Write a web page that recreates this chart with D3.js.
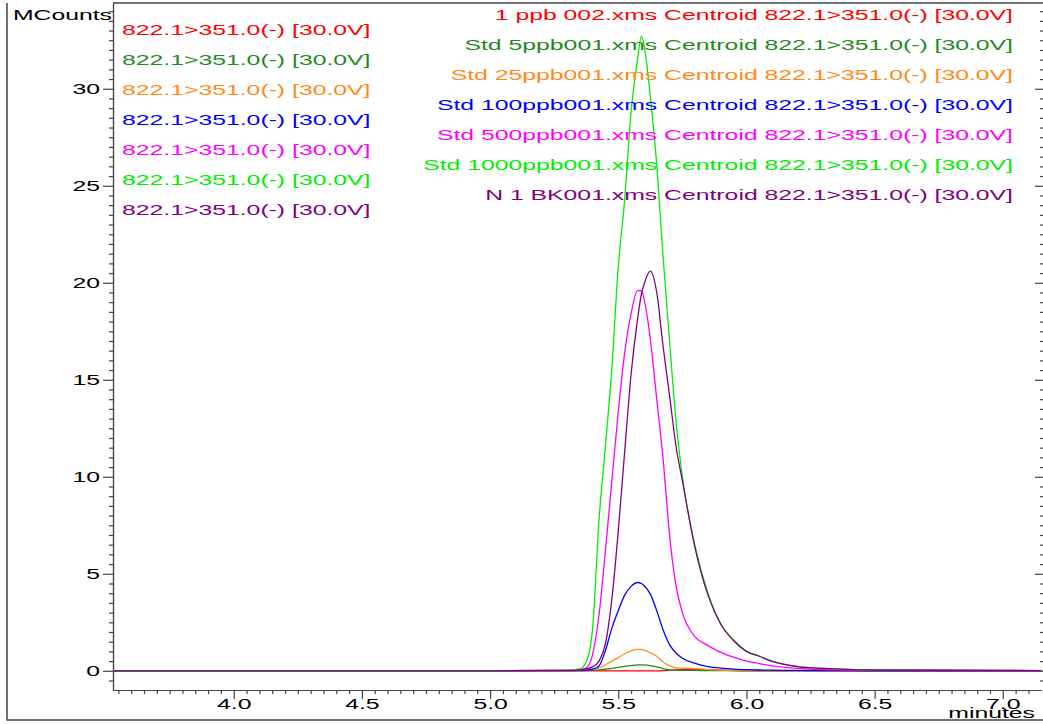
<!DOCTYPE html>
<html>
<head>
<meta charset="utf-8">
<script src="https://cdn.jsdelivr.net/npm/d3@7"></script>
<style>
  body { margin: 0; background: #fff; }
  text { font-family: "Liberation Sans", Arial, sans-serif; }
</style>
</head>
<body>
<svg id="chart" width="1043" height="724"></svg>
<script>
// retention time (minutes)
var times = [3.53, 5.0, 5.3, 5.35, 5.375, 5.4, 5.425, 5.45, 5.475, 5.5, 5.525, 5.55, 5.575, 5.59, 5.6,
  5.625, 5.65, 5.675, 5.7, 5.725, 5.75, 5.8, 5.85, 5.9, 5.95, 6.0, 6.05, 6.1, 6.2, 6.3, 6.5, 7.15];

// MCounts for each trace
var ppb1 = [0, 0, 0, 0, 0, 0, 0, 0, 0, 0, 0, 0, 0, 0, 0,
  0, 0, 0.01, 0.03, 0.05, 0.06, 0.07, 0.05, 0.03, 0.02, 0.01, 0, 0, 0, 0, 0, 0];
var ppb5 = [0, 0, 0.01, 0.01, 0.02, 0.03, 0.05, 0.08, 0.13, 0.18, 0.23, 0.27, 0.3, 0.3, 0.3,
  0.27, 0.2, 0.11, 0.05, 0.03, 0.02, 0.02, 0.01, 0.01, 0, 0, 0, 0, 0, 0, 0, 0];
var ppb25 = [0, 0, 0.01, 0.02, 0.03, 0.07, 0.15, 0.3, 0.5, 0.68, 0.88, 1.02, 1.1, 1.1, 1.07,
  0.93, 0.75, 0.45, 0.25, 0.15, 0.13, 0.11, 0.06, 0.03, 0.02, 0.01, 0, 0, 0, 0, 0, 0];
var ppb100 = [0, 0, 0.01, 0.02, 0.03, 0.08, 0.25, 1.05, 2.2, 3.1, 3.9, 4.35, 4.55, 4.5, 4.4,
  3.95, 3.1, 2.1, 1.35, 0.92, 0.65, 0.38, 0.22, 0.14, 0.09, 0.06, 0.04, 0.03, 0.02, 0.01, 0, 0];
var ppb500 = [0, 0, 0.02, 0.05, 0.15, 0.85, 2.9, 6.2, 9.8, 13.35, 16.4, 18.4, 19.6, 19.6, 19.2,
  17.1, 14.0, 10.9, 7.0, 4.4, 3.0, 1.75, 1.3, 0.95, 0.7, 0.5, 0.37, 0.25, 0.12, 0.06, 0.02, 0];
var ppb1000 = [0, 0, 0.03, 0.1, 0.45, 2.2, 7.8, 11.6, 15.6, 20.8, 24.3, 28.8, 31.5, 32.7, 32.3,
  29.6, 26.1, 21.3, 17.0, 12.9, 10.0, 6.4, 4.0, 2.4, 1.6, 1.0, 0.75, 0.5, 0.22, 0.12, 0.04, 0.01];
var blank = [0, 0, 0.02, 0.05, 0.1, 0.2, 0.5, 1.4, 3.7, 7.2, 11.3, 15.3, 18.1, 19.4, 19.9,
  20.6, 19.5, 16.7, 14.2, 11.6, 9.8, 6.3, 3.9, 2.4, 1.55, 1.0, 0.75, 0.48, 0.22, 0.12, 0.04, 0.01];

var seriesNames = ["1 ppb 002.xms", "Std 5ppb001.xms", "Std 25ppb001.xms", "Std 100ppb001.xms",
  "Std 500ppb001.xms", "Std 1000ppb001.xms", "N 1 BK001.xms"];
var seriesValues = [ppb1, ppb5, ppb25, ppb100, ppb500, ppb1000, blank];
var seriesColors = ["#ff0000", "#1f8a1f", "#ff8a1a", "#0000ff", "#ff00ff", "#00ee00", "#800080"];
var transition = "822.1>351.0(-) [30.0V]";

var yMajor = [0, 5, 10, 15, 20, 25, 30];
var xMajor = [4.0, 4.5, 5.0, 5.5, 6.0, 6.5, 7.0];

var SX = 1.77; // the original picture is stretched sideways

var svg = d3.select("#chart");

var x = d3.scaleLinear().domain([3.529, 7.149]).range([113, 1041]);
var y = d3.scaleLinear().domain([-0.99, 34.42]).range([690, 3]);

// frame
svg.append("path")
  .attr("d", "M7,3V720H1043M113,3H1043")
  .attr("fill", "none")
  .attr("stroke", "#444")
  .attr("stroke-width", 1.5);

// minor ticks
var yMinor = d3.range(-0.5, 34.01, 0.5).filter(function (v) { return v % 5 !== 0; });
var xMinor = d3.range(3.55, 7.15, 0.05).filter(function (v) {
  return Math.abs(v * 2 - Math.round(v * 2)) > 0.01;
});

function styleAxis(g) {
  g.selectAll("path, line").attr("stroke", "#444").attr("stroke-width", 1.2);
  g.selectAll("text").attr("fill", "#000").style("font-size", "14px")
    .style("font-family", "'Liberation Sans', Arial, sans-serif");
}

svg.append("g").attr("transform", "translate(113,0)")
  .call(d3.axisLeft(y).tickValues(yMinor).tickSize(4).tickFormat("").tickSizeOuter(0))
  .call(styleAxis);
var yAxis = svg.append("g").attr("transform", "translate(113,0)")
  .call(d3.axisLeft(y).tickValues(yMajor).tickSize(10).tickFormat(d3.format("d")).tickSizeOuter(0))
  .call(styleAxis);
yAxis.selectAll("text").attr("x", 0)
  .attr("transform", "translate(-13,0) scale(" + SX + ",1)");

// right side ticks
var yRight = svg.append("g").attr("transform", "translate(1043,0)");
yRight.call(d3.axisLeft(y).tickValues(yMinor).tickSize(3).tickFormat("").tickSizeOuter(0))
  .call(styleAxis);
yRight.select(".domain").remove();
var yRight2 = svg.append("g").attr("transform", "translate(1043,0)");
yRight2.call(d3.axisLeft(y).tickValues(yMajor).tickSize(8).tickFormat("").tickSizeOuter(0))
  .call(styleAxis);
yRight2.select(".domain").remove();

svg.append("g").attr("transform", "translate(0,690)")
  .call(d3.axisBottom(x).tickValues(xMinor).tickSize(4).tickFormat("").tickSizeOuter(0))
  .call(styleAxis);
var xAxis = svg.append("g").attr("transform", "translate(0,690)")
  .call(d3.axisBottom(x).tickValues(xMajor).tickSize(9).tickFormat(d3.format(".1f")).tickSizeOuter(0))
  .call(styleAxis);
xAxis.selectAll("text").attr("y", 0)
  .attr("transform", "translate(0,9) scale(" + SX + ",1)");

// traces
var line = d3.line()
  .x(function (d) { return x(d[0]); })
  .y(function (d) { return y(d[1]); })
  .curve(d3.curveMonotoneX);

var plot = svg.append("g");
seriesValues.forEach(function (vals, i) {
  plot.append("path")
    .datum(times.map(function (t, j) { return [t, vals[j]]; }))
    .attr("d", line)
    .attr("fill", "none")
    .attr("stroke", seriesColors[i])
    .attr("stroke-width", 1.3);
});

function addText(px, py, str, color, anchor) {
  svg.append("text")
    .attr("transform", "translate(" + px + "," + py + ") scale(" + SX + ",1)")
    .attr("text-anchor", anchor)
    .attr("fill", color)
    .style("font-size", "14px")
    .text(str);
}

// legends
seriesNames.forEach(function (name, i) {
  addText(122, 35 + i * 30, transition, seriesColors[i], "start");
  addText(1013, 20 + i * 30, name + " Centroid " + transition, seriesColors[i], "end");
});

// axis titles
addText(112, 20, "MCounts", "#000", "end");
addText(1035, 718, "minutes", "#000", "end");
</script>
</body>
</html>
